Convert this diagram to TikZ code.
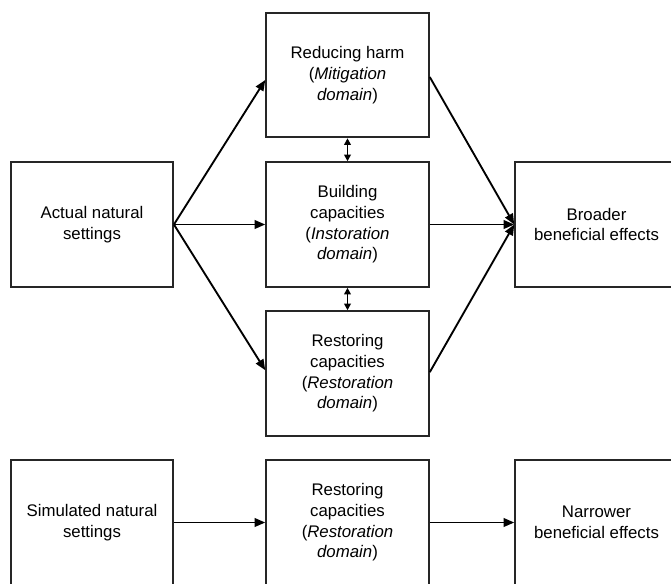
\documentclass[tikz,border=0pt]{standalone}
\usepackage{fontspec}
\setmainfont{Liberation Sans}
\usetikzlibrary{arrows.meta}
\begin{document}
\begin{tikzpicture}[x=0.75pt,y=-0.75pt,
  box/.style={draw=black!85,line width=1.4pt,minimum width=122pt,minimum height=93.5pt,
    inner sep=0pt,align=center,font=\fontsize{12.6pt}{15.5pt}\selectfont},
  conn/.style={line width=1.4pt,-{Triangle[length=8pt,width=6.5pt]}},
  dbl/.style={line width=1.3pt,{Triangle[length=5pt,width=5pt]}-{Triangle[length=5pt,width=5pt]}}]
\clip (0,0) rectangle (671,583);
\useasboundingbox (0,0) rectangle (671,583);
\fill[white] (0,0) rectangle (671,583);
\node[box,minimum width=121.5pt] (actual) at (92,224.5) {Actual natural\\settings};
\node[box] (harm) at (347.5,75) {Reducing harm\\(\textit{Mitigation}\\\textit{domain})};
\node[box] (build) at (347.5,224.5) {Building\\capacities\\(\textit{Instoration}\\\textit{domain})};
\node[box] (restore) at (347.5,373.5) {Restoring\\capacities\\(\textit{Restoration}\\\textit{domain})};
\node[box] (broad) at (596.5,224.5) {Broader\\beneficial effects};
\node[box,minimum width=121.5pt] (sim) at (92,522.5) {Simulated natural\\settings};
\node[box] (restore2) at (347.5,522.5) {Restoring\\capacities\\(\textit{Restoration}\\\textit{domain})};
\node[box] (narrow) at (596.5,522.5) {Narrower\\beneficial effects};
\draw[conn] (actual.east) -- ([yshift=-3.75pt]harm.west);
\draw[conn] (actual.east) -- (build.west);
\draw[conn] (actual.east) -- ([yshift=2.5pt]restore.west);
\draw[conn] ([yshift=-1.5pt]harm.east) -- (broad.west);
\draw[conn] (build.east) -- (broad.west);
\draw[conn] ([yshift=1pt]restore.east) -- (broad.west);
\draw[dbl] (harm.south) -- (build.north);
\draw[dbl] (build.south) -- (restore.north);
\draw[conn] (sim.east) -- (restore2.west);
\draw[conn] (restore2.east) -- (narrow.west);
\end{tikzpicture}
\end{document}
